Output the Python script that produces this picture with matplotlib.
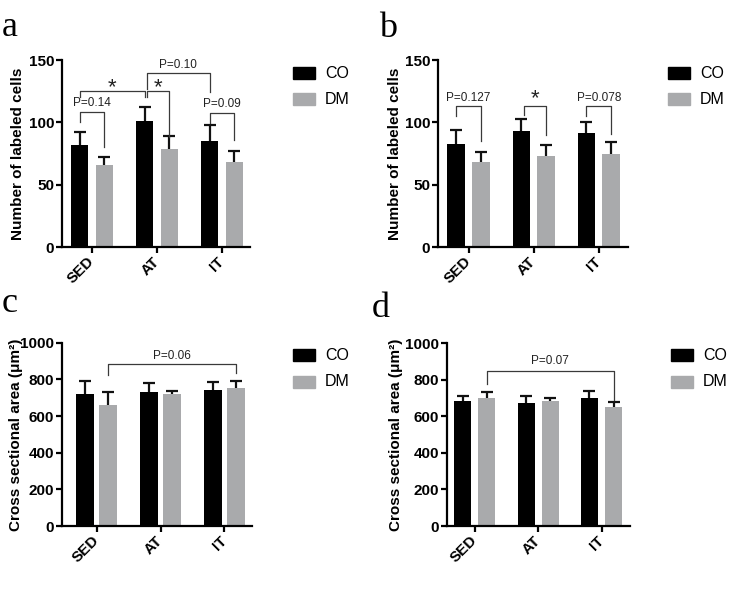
import matplotlib
matplotlib.use("Agg")
import matplotlib.pyplot as plt
from matplotlib.patches import Rectangle
import numpy as np

plt.rcParams['font.family'] = ['Liberation Sans', 'DejaVu Sans']

# ---------------- data ----------------
groups = ["SED", "AT", "IT"]
series = ["CO", "DM"]

a_co = [81.7, 101.0, 84.8]
a_co_sem = [10.7, 11.0, 12.7]
a_dm = [66.0, 79.0, 68.0]
a_dm_sem = [6.0, 10.3, 8.8]

b_co = [83.0, 92.8, 91.5]
b_co_sem = [10.6, 10.2, 8.5]
b_dm = [68.0, 73.0, 75.0]
b_dm_sem = [8.0, 9.2, 9.6]

c_co = [722, 733, 740]
c_co_sem = [71, 47, 47]
c_dm = [660, 720, 753]
c_dm_sem = [69, 15, 40]

d_co = [682, 673, 698]
d_co_sem = [27, 36, 42]
d_dm = [702, 686, 649]
d_dm_sem = [31, 12, 27]

# brackets: (group1, series1, group2, series2, y_line, y_left_end, y_right_end, label)
a_brackets = [
    (0, 0, 0, 1, 108.5, 100.3, 80.5, "P=0.14"),
    (0, 0, 1, 0, 125.5, 120.0, 120.0, "*"),
    (1, 0, 1, 1, 125.5, 120.0, 88.5, "*"),
    (1, 0, 2, 0, 139.3, 126.5, 124.0, "P=0.10"),
    (2, 0, 2, 1, 107.7, 99.7, 86.0, "P=0.09"),
]
b_brackets = [
    (0, 0, 0, 1, 113.0, 105.0, 85.0, "P=0.127"),
    (1, 0, 1, 1, 113.0, 106.0, 90.0, "*"),
    (2, 0, 2, 1, 113.0, 105.0, 91.0, "P=0.078"),
]
c_brackets = [(0, 1, 2, 1, 884, 824, 833, "P=0.06")]
d_brackets = [(0, 1, 2, 1, 848, 779, 689, "P=0.07")]

ylabel_cells = "Number of labeled cells"
ylabel_area = "Cross sectional area (μm²)"

# ---------------- style ----------------
W, H = 750, 595
BLACK = "#000000"
GREY = "#a9aaac"
FS = 11
fig = plt.figure(figsize=(W / 100, H / 100), dpi=100)


def fx(x):
    return x / W


def fy(y):
    return 1 - y / H


def make_axes(left, right, top, bottom):
    return fig.add_axes([fx(left), fy(bottom), (right - left) / W, (bottom - top) / H])


def panel(ax, co, co_sem, dm, dm_sem, offset, width, xlim, ylim, yticks,
          ylabel, label_x, brackets, star_dy, p_dy):
    x = np.arange(len(groups))
    xs = [x - offset, x + offset]
    vals = [co, dm]
    sems = [co_sem, dm_sem]
    cols = [BLACK, GREY]
    for i in range(2):
        ax.bar(xs[i], vals[i], width=width, color=cols[i], zorder=2)
        _, caps, _ = ax.errorbar(xs[i], vals[i], yerr=[np.zeros(3), sems[i]],
                                 fmt='none', ecolor='#111111', elinewidth=1.6,
                                 capsize=4.2, capthick=1.6, zorder=1)
        caps[0].set_visible(False)
    ax.set_xlim(*xlim)
    ax.set_ylim(*ylim)
    ax.set_yticks(yticks)
    ax.set_xticks(x)
    ax.set_xticklabels(groups, rotation=45, ha='right', va='center',
                       rotation_mode='anchor', fontweight='bold', fontsize=FS)
    for lab in ax.get_yticklabels():
        lab.set_fontweight('bold')
        lab.set_fontsize(FS)
    for s in ['top', 'right']:
        ax.spines[s].set_visible(False)
    for s in ['left', 'bottom']:
        ax.spines[s].set_linewidth(1.6)
    ax.tick_params(axis='both', width=1.6, length=4, colors='black')
    ax.tick_params(axis='y', pad=1.5)
    ax.tick_params(axis='x', pad=5)
    ax.set_ylabel(ylabel, fontweight='bold', fontsize=FS)
    ax.yaxis.set_label_coords(label_x, 0.5)
    for (g1, s1, g2, s2, yl, y1, y2, lab) in brackets:
        x1 = xs[s1][g1]
        x2 = xs[s2][g2]
        if g1 == 1 and s1 == 0 and lab != "*" or (g1 == 1 and g2 == 1 and lab == "*"):
            x1 = x1 + 0.035
        ax.plot([x1, x1, x2, x2], [y1, yl, yl, y2], color='#3a3a3a', lw=0.9,
                clip_on=False, zorder=3)
        xm = (x1 + x2) / 2
        if lab == "*":
            ax.text(xm, yl + star_dy, "*", ha='center', va='center', fontsize=16,
                    color='#222222', clip_on=False)
        else:
            ax.text(xm, yl + p_dy, lab, ha='center', va='center', fontsize=8.5,
                    color='#222222', clip_on=False)


def legend(x0, y_co, y_dm):
    for y, name, col in [(y_co, series[0], BLACK), (y_dm, series[1], GREY)]:
        fig.patches.append(Rectangle((fx(x0), fy(y + 12)), 22 / W, 12 / H,
                                     transform=fig.transFigure, color=col,
                                     figure=fig))
        fig.text(fx(x0 + 32), fy(y + 6), name, ha='left', va='center', fontsize=11.5)


axa = make_axes(62, 250, 60, 247)
panel(axa, a_co, a_co_sem, a_dm, a_dm_sem, 0.19, 0.26, (-0.46, 2.43), (0, 150),
      [0, 50, 100, 150], ylabel_cells, -0.197, a_brackets, 2.0, 6.8)
axb = make_axes(438, 628, 60, 247)
panel(axb, b_co, b_co_sem, b_dm, b_dm_sem, 0.19, 0.27, (-0.47, 2.45), (0, 150),
      [0, 50, 100, 150], ylabel_cells, -0.189, b_brackets, 6.0, 6.5)
axc = make_axes(62, 252, 342.7, 526)
panel(axc, c_co, c_co_sem, c_dm, c_dm_sem, 0.18, 0.27, (-0.54, 2.43), (0, 1000),
      [0, 200, 400, 600, 800, 1000], ylabel_area, -0.205, c_brackets, 40, 43)
axd = make_axes(447, 630, 343.3, 526)
panel(axd, d_co, d_co_sem, d_dm, d_dm_sem, 0.19, 0.27, (-0.44, 2.45), (0, 1000),
      [0, 200, 400, 600, 800, 1000], ylabel_area, -0.240, d_brackets, 40, 54)

legend(293, 67, 93)
legend(668, 67, 93)
legend(293, 349, 376)
legend(671, 349, 376)

# panel letters
for lab, x, y in [("a", 2, 36), ("b", 379, 37), ("c", 2, 312), ("d", 372, 317)]:
    fig.text(fx(x), fy(y), lab, fontsize=26, family=['Liberation Serif', 'DejaVu Serif'],
             ha='left', va='baseline')

fig.savefig("out.png", dpi=100)
